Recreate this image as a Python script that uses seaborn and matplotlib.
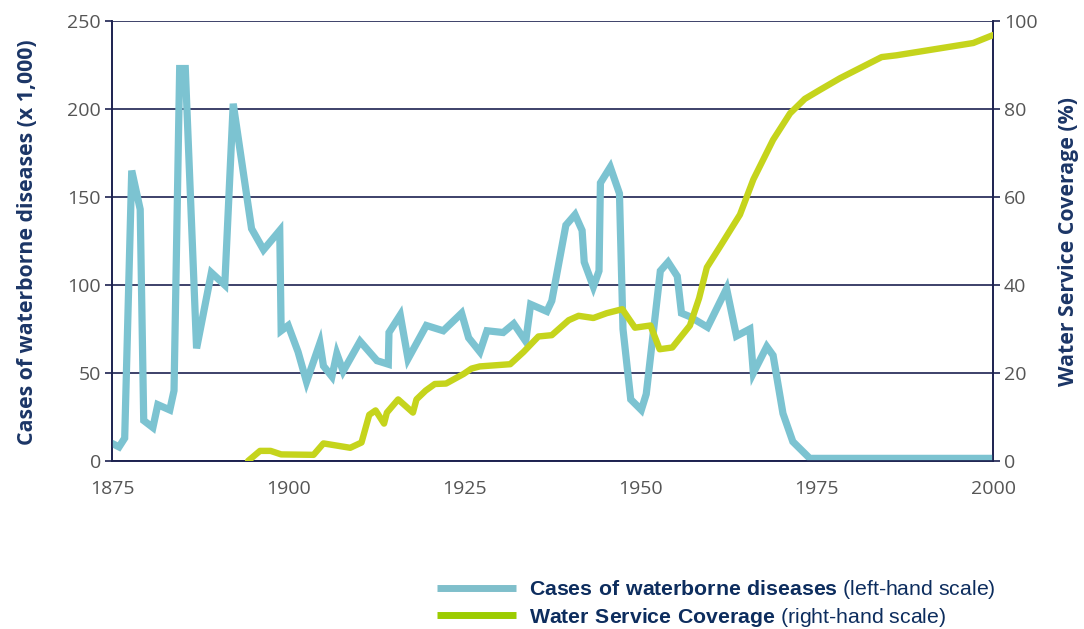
import matplotlib
matplotlib.use("Agg")
import matplotlib.pyplot as plt
import seaborn as sns
import pandas as pd
from matplotlib.lines import Line2D

# ---- data ----
disease_years = [1875, 1876, 1876.8, 1877.8, 1879, 1879.5, 1880.8, 1881.5, 1883.2, 1883.8,
                 1884.6, 1885.4, 1887, 1889.1, 1891, 1892.2, 1894.8, 1896.5, 1898.8, 1899,
                 1900, 1901.4, 1902.6, 1904.5, 1905, 1906.2, 1906.9, 1907.8, 1910.2, 1912.6,
                 1914.2, 1914.3, 1915.9, 1917, 1919.6, 1922, 1924.6, 1925.6, 1927.2, 1928.2,
                 1930.5, 1932, 1933.7, 1934.4, 1936.7, 1937.4, 1939.4, 1940.7, 1941.7, 1942,
                 1943.3, 1944.1, 1944.3, 1945.7, 1947, 1947.5, 1948.6, 1950.1, 1950.8, 1952.8,
                 1953.9, 1955.2, 1955.8, 1957, 1959.5, 1962.2, 1963.6, 1965.5, 1966, 1967.9,
                 1968.8, 1970.2, 1971.6, 1974, 2000]
disease_cases = [10, 8, 13, 165, 143, 23, 19, 32, 29, 40,
                 223, 223, 64, 107, 100, 203, 132, 120, 131, 74,
                 77, 62, 45, 67, 54, 48, 61, 51, 68, 57,
                 55, 73, 83, 58, 77, 74, 84, 70, 62, 74,
                 73, 78, 68, 89, 85, 91, 134, 140, 131, 113,
                 99, 108, 158, 167, 152, 75, 35, 29, 38, 108,
                 113, 105, 84, 82, 76, 98, 71, 75, 50, 65,
                 60, 27, 11, 1.5, 1.5]

coverage_years = [1894.3, 1896, 1897.5, 1899, 1903.6, 1905, 1908.8, 1910.4, 1911.5, 1912.4,
                  1913.6, 1914, 1915.6, 1917.7, 1918.2, 1919.5, 1920.8, 1922.4, 1924.9, 1926,
                  1927.2, 1931.5, 1933.4, 1935.5, 1937.4, 1939.8, 1941.2, 1943.3, 1945.2, 1947.4,
                  1949.2, 1951.4, 1952.7, 1954.5, 1957, 1958.3, 1959.4, 1961.3, 1964.1, 1966,
                  1968.8, 1971.2, 1973.3, 1975.4, 1978.3, 1984.2, 1986.3, 1997.2, 2000]
coverage_pct = [0, 2.3, 2.3, 1.5, 1.4, 4, 3, 4.2, 10.5, 11.5,
                8.5, 11, 14, 11, 14, 16, 17.5, 17.6, 19.8, 21,
                21.5, 22, 24.8, 28.3, 28.6, 32, 33, 32.5, 33.6, 34.5,
                30.3, 30.8, 25.4, 25.8, 30.8, 37, 44, 48.8, 56, 64,
                73, 79, 82.3, 84.3, 87, 91.8, 92.2, 95, 96.8]

x_ticks = [1875, 1900, 1925, 1950, 1975, 2000]
left_ticks = [0, 50, 100, 150, 200, 250]
right_ticks = [0, 20, 40, 60, 80, 100]

left_label = "Cases of waterborne diseases (x 1,000)"
right_label = "Water Service Coverage (%)"
legend_labels = [r"$\mathbf{Cases\ of\ waterborne\ diseases}$ (left-hand scale)",
                 r"$\mathbf{Water\ Service\ Coverage}$ (right-hand scale)"]

# ---- style ----
sns.set_style("white")
plt.rcParams["font.family"] = ["Open Sans", "DejaVu Sans"]
plt.rcParams["mathtext.fontset"] = "custom"
plt.rcParams["mathtext.bf"] = "Liberation Sans:bold"
plt.rcParams["mathtext.rm"] = "Liberation Sans"

navy = "#1c2150"
blue = "#7cc3d1"
green = "#c5d41c"
tick_gray = "#555555"
label_navy = "#1b3566"

fig = plt.figure(figsize=(10.84, 6.29), dpi=100)
ax = fig.add_axes([112 / 1084, 1 - 461 / 629, (993 - 112) / 1084, (461 - 21) / 629])
ax2 = ax.twinx()

df1 = pd.DataFrame({"year": disease_years, "cases": disease_cases})
df2 = pd.DataFrame({"year": coverage_years, "pct": coverage_pct})

sns.lineplot(data=df1, x="year", y="cases", ax=ax, color=blue, lw=5.2,
             estimator=None, sort=False, solid_joinstyle="miter", zorder=3)
sns.lineplot(data=df2, x="year", y="pct", ax=ax2, color=green, lw=4.6,
             estimator=None, sort=False, solid_joinstyle="round", zorder=3)

ax.set_xlim(1875, 2000)
ax.set_ylim(0, 250)
ax2.set_ylim(0, 100)
ax.set_xticks(x_ticks)
ax.set_yticks(left_ticks)
ax2.set_yticks(right_ticks)

ax.yaxis.grid(True, color=navy, lw=1.2)
ax.xaxis.grid(False)
ax2.grid(False)
ax.set_axisbelow(True)

for a in (ax, ax2):
    for s in a.spines.values():
        s.set_color(navy)
        s.set_linewidth(1.2)
    a.spines["top"].set_visible(False)

ax.tick_params(axis="x", direction="out", length=8, width=1.2, color=navy,
               labelsize=14, labelcolor=tick_gray, pad=6)
ax.tick_params(axis="y", direction="out", length=5, width=1.2, color=navy,
               labelsize=14, labelcolor=tick_gray, pad=3)
ax2.tick_params(axis="y", direction="out", length=5, width=1.2, color=navy,
                labelsize=14, labelcolor=tick_gray, pad=3)

ax.set_xlabel("")
ax.set_ylabel(left_label, fontsize=15.3, fontweight="bold", color=label_navy)
ax2.set_ylabel(right_label, fontsize=15.3, fontweight="bold", color=label_navy, rotation=90)
ax.yaxis.set_label_coords((28 - 112) / 881, 0.498)
ax2.yaxis.set_label_coords((1068 - 112) / 881, 0.5)
ax.yaxis.label.set_va("center")
ax2.yaxis.label.set_va("center")

# legend
h1 = Line2D([], [], color="#7fbfcb", lw=5, solid_capstyle="butt")
h2 = Line2D([], [], color="#9ccc00", lw=5, solid_capstyle="butt")
leg = fig.legend([h1, h2], legend_labels, loc="upper left",
                 bbox_to_anchor=(437 / 1084, 1 - 578 / 629), frameon=False,
                 prop={"family": "Liberation Sans", "size": 15.3},
                 handlelength=3.7, handletextpad=0.65,
                 borderpad=0, borderaxespad=0, labelspacing=0.22)
for t in leg.get_texts():
    t.set_color("#0d2d5e")

fig.savefig("out.png", dpi=100)
